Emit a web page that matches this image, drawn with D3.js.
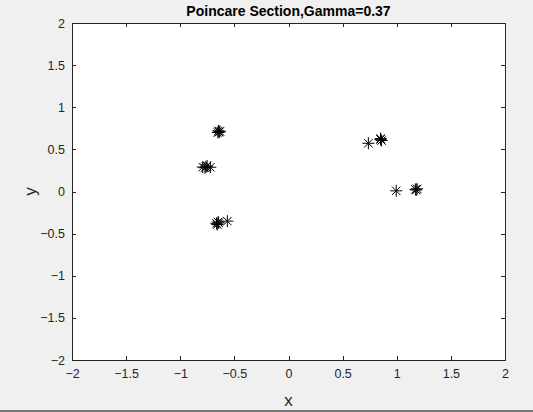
<!DOCTYPE html>
<html>
<head>
<meta charset="utf-8">
<script src="https://cdn.jsdelivr.net/npm/d3@7"></script>
<style>
  html, body { margin: 0; padding: 0; background: #f0f0f0; }
  svg { display: block; }
  text { font-family: "Liberation Sans", Arial, Helvetica, sans-serif; }
</style>
</head>
<body>
<svg id="chart" width="533" height="412"></svg>
<script>
// ---- data ----
const titleText = "Poincare Section,Gamma=0.37";
const xLabel = "x";
const yLabel = "y";
const xTicks = [-2, -1.5, -1, -0.5, 0, 0.5, 1, 1.5, 2];
const yTicks = [-2, -1.5, -1, -0.5, 0, 0.5, 1, 1.5, 2];
const xDomain = [-2, 2];
const yDomain = [-2, 2];
// Poincare section points (clusters of near-coincident points)
const xValues = [
  -0.648, -0.640, -0.652, -0.634,
  -0.792, -0.762, -0.722, -0.752, -0.772,
  -0.665, -0.650, -0.658, -0.645, -0.565,
   0.738,
   0.850,  0.860,  0.852,
   0.995,
   1.172,  1.188,  1.180
];
const yValues = [
   0.720,  0.706,  0.700,  0.714,
   0.290,  0.292,  0.288,  0.302,  0.282,
  -0.378, -0.362, -0.392, -0.372, -0.352,
   0.572,
   0.618,  0.605,  0.628,
   0.008,
   0.025,  0.032,  0.018
];

// ---- layout ----
const W = 533, H = 412;
const plot = { left: 72, right: 505, top: 23, bottom: 360 };
const svg = d3.select("#chart");

svg.append("rect").attr("x", 0).attr("y", 0).attr("width", W).attr("height", H).attr("fill", "#f0f0f0");
svg.append("rect").attr("x", 0).attr("y", 410).attr("width", W).attr("height", 2).attr("fill", "#767676");

const x = d3.scaleLinear().domain(xDomain).range([plot.left, plot.right]);
const y = d3.scaleLinear().domain(yDomain).range([plot.bottom, plot.top]);

svg.append("rect")
  .attr("x", plot.left).attr("y", plot.top)
  .attr("width", plot.right - plot.left).attr("height", plot.bottom - plot.top)
  .attr("fill", "#ffffff");

const axisColor = "#262626";
const tickLen = 4;
const fmt = d => d3.format("")(d);

// bottom axis
const gx = svg.append("g").attr("transform", `translate(0,${plot.bottom})`)
  .call(d3.axisBottom(x).tickValues(xTicks).tickSize(-tickLen).tickPadding(9).tickFormat(fmt));
// top axis (ticks only)
const gxt = svg.append("g").attr("transform", `translate(0,${plot.top})`)
  .call(d3.axisTop(x).tickValues(xTicks).tickSize(-tickLen).tickFormat(""));
// left axis
const gy = svg.append("g").attr("transform", `translate(${plot.left},0)`)
  .call(d3.axisLeft(y).tickValues(yTicks).tickSize(-tickLen).tickPadding(7).tickFormat(fmt));
// right axis (ticks only)
const gyr = svg.append("g").attr("transform", `translate(${plot.right},0)`)
  .call(d3.axisRight(y).tickValues(yTicks).tickSize(-tickLen).tickFormat(""));

[gx, gxt, gy, gyr].forEach(g => {
  g.select(".domain").attr("stroke", axisColor).attr("stroke-width", 1).attr("shape-rendering", "crispEdges");
  g.selectAll(".tick line").attr("stroke", axisColor).attr("stroke-width", 1).attr("shape-rendering", "crispEdges");
  g.selectAll(".tick text").attr("fill", axisColor).style("font-size", "12.5px")
    .style("font-family", "'Liberation Sans', Arial, sans-serif");
});
gx.selectAll(".tick text").attr("dy", "0.71em");

// title
svg.append("text")
  .attr("x", (plot.left + plot.right) / 2).attr("y", 16)
  .attr("text-anchor", "middle")
  .style("font-size", "14px").style("font-weight", "bold")
  .attr("fill", "#000")
  .text(titleText);

// axis labels
svg.append("text")
  .attr("x", (plot.left + plot.right) / 2).attr("y", 406)
  .attr("text-anchor", "middle")
  .style("font-size", "17px").attr("fill", axisColor)
  .text(xLabel);
svg.append("text")
  .attr("transform", `translate(36,${(plot.top + plot.bottom) / 2}) rotate(-90)`)
  .attr("text-anchor", "middle")
  .style("font-size", "17px").attr("fill", axisColor)
  .text(yLabel);

// asterisk markers
const r = 6, d = r * Math.SQRT1_2;
const starPath = `M${-r},0L${r},0M0,${-r}L0,${r}M${-d},${-d}L${d},${d}M${-d},${d}L${d},${-d}`;
const pts = xValues.map((v, i) => [v, yValues[i]]);
svg.append("g").selectAll("path").data(pts).join("path")
  .attr("transform", p => `translate(${x(p[0])},${y(p[1])})`)
  .attr("d", starPath)
  .attr("fill", "none")
  .attr("stroke", "#000")
  .attr("stroke-width", 1);
</script>
</body>
</html>
